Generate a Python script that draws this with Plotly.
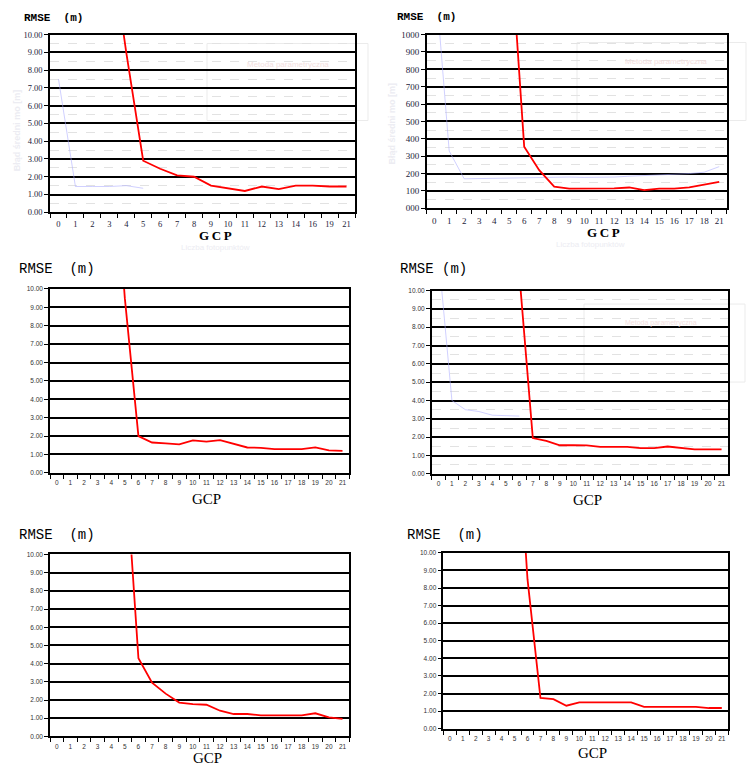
import plotly.graph_objects as go

W, H = 747, 771

# ---------------- data ----------------
cats_p1 = ["0", "1", "2", "3", "4", "5", "6", "7", "8", "9", "10", "11", "12", "13", "14", "16", "19", "21"]
cats_p2 = [str(i) for i in range(19)] + ["21"]
cats_full = [str(i) for i in range(22)]

rmse_p1 = [None, None, None, 15.7, 9.0, 2.9, 2.45, 2.08, 2.0, 1.5, 1.35, 1.2, 1.45, 1.3, 1.5, 1.5, 1.45, 1.45]
ghost_p1 = [7.5, 1.45, 1.45, 1.45, 1.5, 1.35, None, None, None, None, None, None, None, None, None, None, None, None]

rmse_p2 = [None, None, None, None, None, 16.4, 3.55, 2.2, 1.25, 1.13, 1.13, 1.13, 1.15, 1.2, 1.05, 1.13, 1.13, 1.2, 1.35, 1.52]
ghost_p2 = [14.0, 3.3, 1.7, 1.72, 1.74, 1.76, 1.76, 1.78, 1.8, 1.8, 1.78, 1.78, 1.8, 1.85, 1.88, 1.92, 1.95, 2.0, 2.08, 2.4]

rmse_p3 = [None, None, None, None, 19.5, 9.5, 2.0, 1.65, 1.6, 1.55, 1.77, 1.7, 1.78, 1.58, 1.38, 1.36, 1.29, 1.29, 1.29, 1.38, 1.22, 1.2]

rmse_p4 = [None, None, None, None, None, None, 10.9, 1.95, 1.8, 1.56, 1.56, 1.55, 1.47, 1.47, 1.47, 1.4, 1.4, 1.49, 1.4, 1.33, 1.33, 1.33]
ghost_p4 = [12.0, 4.0, 3.5, 3.4, 3.2, 3.18, 3.15, None, None, None, None, None, None, None, None, None, None, None, None, None, None, None]

rmse_p5 = [None, None, None, None, None, 15.5, 4.3, 2.95, 2.35, 1.86, 1.77, 1.74, 1.41, 1.23, 1.23, 1.16, 1.16, 1.16, 1.16, 1.27, 1.05, 0.96]

rmse_p6 = [None, None, None, None, None, 20.0, 8.5, 1.75, 1.68, 1.31, 1.5, 1.5, 1.5, 1.5, 1.5, 1.25, 1.25, 1.25, 1.25, 1.25, 1.18, 1.18]

y_vals = list(range(11))
y_text_dec = ["%d.00" % v for v in y_vals]
y_text_p2 = ["%d00" % v for v in y_vals]
minor_vals = [v + 0.5 for v in range(10)]

y_title = "RMSE\u00a0\u00a0(m)"
y_title_p4 = "RMSE\u00a0(m)"
x_title = "GCP"
x_title_top = "G\u2009C\u2009P"
ghost_legend = "Metoda parametryczna"
ghost_ytitle = "Błąd średni mo [m]"
ghost_xtitle = "Liczba fotopunktów"

# ---------------- layout helpers ----------------
def dx(a, b):
    return [a / W, b / W]

def dy(top, bottom):
    return [1 - bottom / H, 1 - top / H]

def px(x):
    return x / W

def py(y):
    return 1 - y / H

panels = [
    dict(cats=cats_p1, red=rmse_p1, ghost=ghost_p1, ytext=y_text_dec, box=(50, 355, 30, 210), minor=True,
         tfont=dict(family="Liberation Serif", size=8.5, color="#1c1c3a")),
    dict(cats=cats_p2, red=rmse_p2, ghost=ghost_p2, ytext=y_text_p2, box=(426.7, 726.7, 30, 206), minor=True,
         tfont=dict(family="Liberation Serif", size=9, color="#1c1c3a")),
    dict(cats=cats_full, red=rmse_p3, ghost=None, ytext=y_text_dec, box=(50, 349.3, 287.7, 474), minor=False,
         tfont=dict(family="Liberation Sans", size=6.5, color="#333")),
    dict(cats=cats_full, red=rmse_p4, ghost=ghost_p4, ytext=y_text_dec, box=(431.7, 728.3, 289.3, 475), minor=True,
         tfont=dict(family="Liberation Sans", size=6.5, color="#333")),
    dict(cats=cats_full, red=rmse_p5, ghost=None, ytext=y_text_dec, box=(50, 349.3, 556.7, 741), minor=False,
         tfont=dict(family="Liberation Sans", size=6.5, color="#333")),
    dict(cats=cats_full, red=rmse_p6, ghost=None, ytext=y_text_dec, box=(443.3, 728.3, 555, 733.3), minor=False,
         tfont=dict(family="Liberation Sans", size=6.5, color="#333")),
]

fig = go.Figure()
layout = dict(
    width=W, height=H, margin=dict(l=0, r=0, t=0, b=0),
    paper_bgcolor="white", plot_bgcolor="white", showlegend=False,
)

for i, p in enumerate(panels, start=1):
    xa = "x" if i == 1 else "x%d" % i
    ya = "y" if i == 1 else "y%d" % i
    x0, x1, t, b = p["box"]
    if p["ghost"] is not None:
        fig.add_trace(go.Scatter(x=p["cats"], y=p["ghost"], mode="lines",
                                 line=dict(color="rgba(170,170,255,0.55)", width=1),
                                 xaxis=xa, yaxis=ya, hoverinfo="skip"))
    fig.add_trace(go.Scatter(x=p["cats"], y=p["red"], mode="lines",
                             line=dict(color="#ff0000", width=1.8),
                             xaxis=xa, yaxis=ya))
    xkey = "xaxis" if i == 1 else "xaxis%d" % i
    ykey = "yaxis" if i == 1 else "yaxis%d" % i
    layout[xkey] = dict(
        domain=dx(x0, x1), anchor=ya, type="category",
        categoryorder="array", categoryarray=p["cats"],
        range=[-0.5, len(p["cats"]) - 0.5],
        tickson="boundaries", ticks="outside", ticklen=4, tickwidth=1.2, tickcolor="#000",
        showline=True, linecolor="#000", linewidth=1.5, mirror=True,
        showgrid=False, zeroline=False, tickfont=p["tfont"], ticklabelstandoff=3,
        tickangle=0, fixedrange=True,
    )
    yax = dict(
        domain=dy(t, b), anchor=xa, range=[0, 10],
        tickmode="array", tickvals=y_vals, ticktext=p["ytext"],
        ticks="outside", ticklen=4, tickwidth=1.2, tickcolor="#000",
        showline=True, linecolor="#000", linewidth=1.5, mirror=True,
        showgrid=True, gridcolor="#000", gridwidth=2, zeroline=False,
        tickfont=p["tfont"], fixedrange=True,
    )
    if p["minor"]:
        yax["minor"] = dict(tickmode="array", tickvals=minor_vals, showgrid=True,
                            gridcolor="#e2e2e2", griddash="dash", gridwidth=1, ticks="")
    layout[ykey] = yax

fig.update_layout(**layout)

# ---------------- titles ----------------
mono = "Liberation Mono"
serif = "Liberation Serif"
ann = []
def add_text(text, x, y, size, family, color="#000", xanchor="left", bold=False, textangle=0):
    ann.append(dict(text=("<b>%s</b>" % text) if bold else text, x=px(x), y=py(y),
                    xref="paper", yref="paper", showarrow=False, xanchor=xanchor,
                    yanchor="middle", textangle=textangle,
                    font=dict(family=family, size=size, color=color)))

# faint ghost texts from the underlying scan (drawn first, beneath)
ghost_col = "#ececf2"
add_text(ghost_legend, 245, 60, 8, "Liberation Sans", color="#f3dede")
add_text(ghost_legend, 623, 57, 8, "Liberation Sans", color="#f3dede")
add_text(ghost_legend, 623, 322, 7, "Liberation Sans", color="#f3dede")
add_text(ghost_ytitle, 17, 127, 9, "Liberation Sans", color=ghost_col, xanchor="center", bold=True, textangle=-90)
add_text(ghost_ytitle, 392, 120, 9, "Liberation Sans", color=ghost_col, xanchor="center", bold=True, textangle=-90)
add_text(ghost_xtitle, 215, 246, 8, "Liberation Sans", color=ghost_col, xanchor="center")
add_text(ghost_xtitle, 590, 243, 8, "Liberation Sans", color=ghost_col, xanchor="center")

add_text(y_title, 22, 13, 11, mono, bold=True)
add_text(y_title, 395, 12, 11, mono, bold=True)
add_text(y_title, 17, 267, 14, mono)
add_text(y_title_p4, 398, 267, 14, mono)
add_text(y_title, 17, 537, 14, mono)
add_text(y_title, 405, 537, 14, mono)

add_text(x_title_top, 215, 234, 13, serif, xanchor="center", bold=True)
add_text(x_title_top, 603, 230, 13, serif, xanchor="center", bold=True)
add_text(x_title, 206, 500, 15, serif, xanchor="center")
add_text(x_title, 587, 502, 15, serif, xanchor="center")
add_text(x_title, 207, 763, 15, serif, xanchor="center")
add_text(x_title, 592, 758, 15, serif, xanchor="center")

shapes = []
for (a, b, t, bt) in [(207, 368, 39, 117), (577, 746, 38, 117), (584, 745, 303, 382)]:
    shapes.append(dict(type="rect", xref="paper", yref="paper", x0=px(a), x1=px(b), y0=py(bt), y1=py(t),
                       line=dict(color="#ebebeb", width=1), fillcolor="rgba(0,0,0,0)", layer="below"))

fig.update_layout(annotations=ann, shapes=shapes)

fig.write_html(
    "out.html",
    config={"displayModeBar": False},
    post_script="document.body.style.margin='0';document.body.style.overflow='hidden';",
)
